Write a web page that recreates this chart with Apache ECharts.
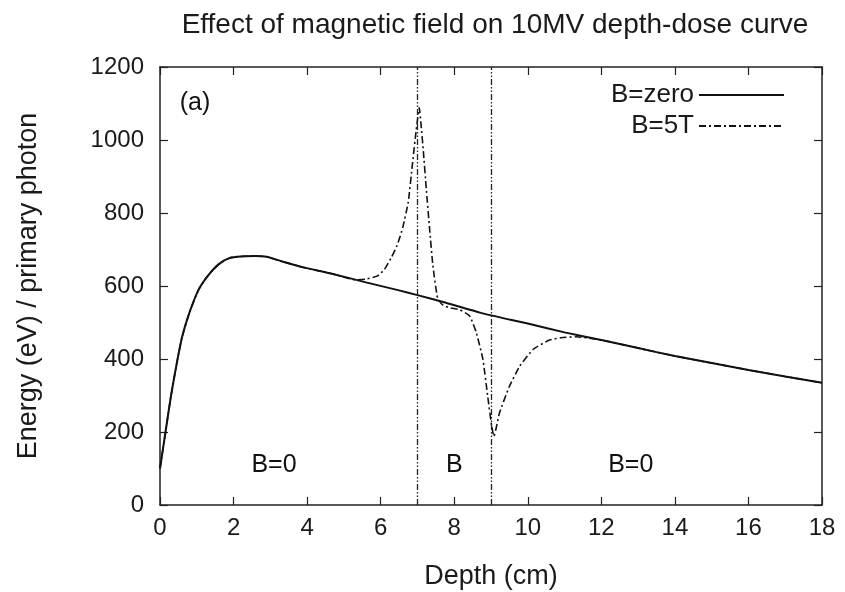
<!DOCTYPE html>
<html>
<head>
<meta charset="utf-8">
<script src="https://cdn.jsdelivr.net/npm/echarts@6/dist/echarts.min.js"></script>
<style>html,body{margin:0;padding:0;background:#fff}#c{width:845px;height:592px}</style>
</head>
<body>
<div id="c"></div>
<script>
// ---- data ----
const titleText = 'Effect of magnetic field on 10MV depth-dose curve';
const xAxisName = 'Depth (cm)';
const yAxisName = 'Energy (eV) / primary photon';
const seriesNames = ['B=zero', 'B=5T'];

const depthZero  = [0,0.15,0.3,0.45,0.6,0.8,1.05,1.3,1.6,1.9,2.2,2.6,2.9,3.3,3.9,4.7,5.6,6.5,7.0,7.7,8.7,9.5,10,11,12,13,14,15,16,17,18];
const energyZero = [100,200,300,385,460,527,590,628,660,677,681,682,680,668,651,633,610,588,575,556,527,508,497,473,452,430,408,389,370,352,335];

const depth5T  = [0,0.15,0.3,0.45,0.6,0.8,1.05,1.3,1.6,1.9,2.2,2.6,2.9,3.3,3.9,4.7,5.3,5.6,5.9,6.1,6.3,6.45,6.6,6.75,6.87,6.97,7.05,7.1,7.16,7.24,7.33,7.42,7.55,7.7,7.9,8.15,8.42,8.6,8.78,8.91,9.02,9.08,9.15,9.23,9.5,9.78,10.14,10.59,10.9,11.3,12,13,14,15,16,17,18];
const energy5T = [100,200,300,385,460,527,590,628,660,677,681,682,680,668,651,633,617,619,627,645,680,712,760,830,940,1030,1088,1040,970,867,757,656,566,547,540,535,518,472,399,298,215,188,215,252,325,380,426,452,458,461,452,430,408,389,370,352,335];

const fieldBoundaries = [7, 9];

const annotationX    = [0.95, 3.1, 8.0, 12.8];
const annotationY    = [1101, 110, 110, 110];
const annotationText = ['(a)', 'B=0', 'B', 'B=0'];

const xTicks = [0,2,4,6,8,10,12,14,16,18];
const yTicks = [0,200,400,600,800,1000,1200];

// ---- chart ----
const FONT = 'Liberation Sans';
const TXT = '#1a1a1a';
const zip = (a, b) => a.map((v, i) => [v, b[i]]);

const chart = echarts.init(document.getElementById('c'), null, {renderer: 'canvas'});

const axisCommon = () => ({
  axisLine: {show: true, onZero: false, lineStyle: {color: '#222', width: 1.5}},
  axisTick: {show: true, inside: true, length: 8, lineStyle: {color: '#222', width: 1.2}},
  splitLine: {show: false}
});

chart.setOption({
  animation: false,
  backgroundColor: '#fff',
  textStyle: {fontFamily: FONT},
  title: {
    text: titleText,
    left: 490, top: 6, textAlign: 'center',
    textStyle: {fontFamily: FONT, fontWeight: 'normal', fontSize: 28, color: TXT}
  },
  grid: {left: 160, right: 23, top: 67, bottom: 87, outerBoundsMode: 'none', containLabel: false},
  legend: {
    data: seriesNames,
    orient: 'vertical', align: 'right',
    right: 55, top: 77,
    itemWidth: 85, itemHeight: 16, itemGap: 5,
    itemStyle: {opacity: 0},
    textStyle: {fontFamily: FONT, fontSize: 26, color: TXT}
  },
  xAxis: [
    Object.assign({
      type: 'value', min: xTicks[0], max: xTicks[xTicks.length - 1], interval: 2,
      name: xAxisName, nameLocation: 'middle', nameGap: 58,
      nameTextStyle: {fontFamily: FONT, fontSize: 27, color: TXT},
      axisLabel: {fontFamily: FONT, fontSize: 24, color: TXT, margin: 11, formatter: v => String(v)}
    }, axisCommon()),
    Object.assign({
      type: 'value', position: 'top', min: xTicks[0], max: xTicks[xTicks.length - 1], interval: 2,
      axisLabel: {show: false}
    }, axisCommon())
  ],
  yAxis: [
    Object.assign({
      type: 'value', min: yTicks[0], max: yTicks[yTicks.length - 1], interval: 200,
      name: yAxisName, nameLocation: 'middle', nameGap: 118,
      nameTextStyle: {fontFamily: FONT, fontSize: 27, color: TXT},
      axisLabel: {fontFamily: FONT, fontSize: 24, color: TXT, margin: 16, formatter: v => String(v)}
    }, axisCommon()),
    Object.assign({
      type: 'value', position: 'right', min: yTicks[0], max: yTicks[yTicks.length - 1], interval: 200,
      axisLabel: {show: false}
    }, axisCommon())
  ],
  series: [
    {
      name: seriesNames[0], type: 'line', data: zip(depthZero, energyZero),
      showSymbol: false, symbol: 'none', smooth: 0.2,
      lineStyle: {color: '#111', width: 2, type: 'solid'},
      itemStyle: {color: '#111'}, z: 3
    },
    {
      name: seriesNames[1], type: 'line', data: zip(depth5T, energy5T),
      showSymbol: false, symbol: 'none', smooth: 0.15,
      lineStyle: {color: '#111', width: 1.6, type: [7, 3, 2, 3]},
      itemStyle: {color: '#111'}, z: 4
    },
    {
      name: 'field boundaries', type: 'line', data: [],
      markLine: {
        silent: true, symbol: 'none', label: {show: false},
        lineStyle: {color: '#222', width: 1.3, type: [6, 2, 1.5, 2, 1.5, 2]},
        data: fieldBoundaries.map(v => ({xAxis: v}))
      }
    },
    {
      name: 'annotations', type: 'scatter',
      data: annotationX.map((x, i) => ({value: [x, annotationY[i]], name: annotationText[i]})),
      symbolSize: 1, itemStyle: {color: 'rgba(0,0,0,0)'}, silent: true, z: 10,
      label: {
        show: true, position: 'inside', formatter: p => p.name,
        fontFamily: FONT, fontSize: 25, color: '#111', opacity: 1,
        textBorderWidth: 0
      }
    }
  ]
});
</script>
</body>
</html>
